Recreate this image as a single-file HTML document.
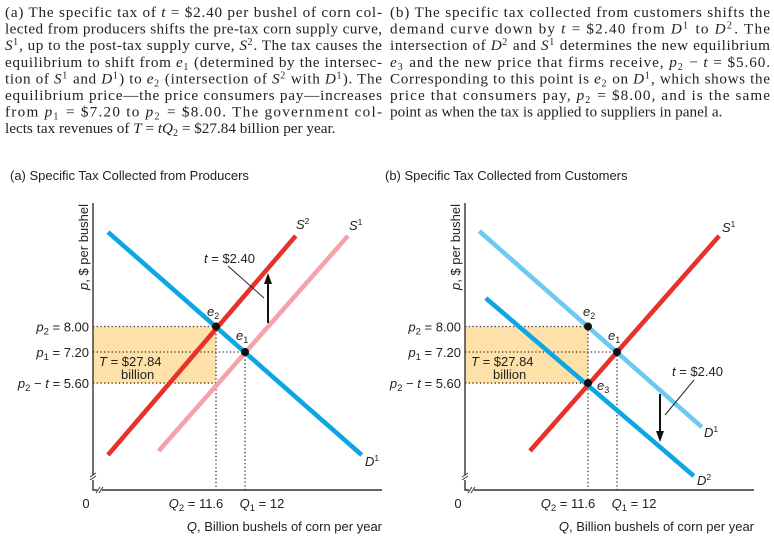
<!DOCTYPE html>
<html><head><meta charset="utf-8">
<style>
body{margin:0;width:774px;height:542px;background:#fff;overflow:hidden;position:relative;font-family:"Liberation Sans",sans-serif}
svg{position:absolute;left:0;top:0}
svg text{font-family:"Liberation Sans",sans-serif;font-size:13px;fill:#222}
svg text.cap{font-family:"Liberation Serif",serif;font-size:15.2px;fill:#222}
</style></head><body>
<svg id="chart" width="774" height="542"></svg>
<script>
const priceTicks=[8.0,7.2,5.6];
const qtyTicks=[11.6,12];
const taxAmount=2.40;
const revenue=27.84;
// line endpoints [q1,p1,q2,p2]
const aD1=[10.11,10.96,13.61,1.89];
const aS2=[10.11,1.89,12.70,10.84];
const aS1=[10.81,2.10,13.42,10.84];
const bD1=[10.10,10.99,13.17,3.33];
const bD2=[10.19,8.89,13.06,0.81];
const bS1=[10.80,2.10,13.41,10.84];
const aPoints=[[11.6,8.0],[12,7.2]];
const bPoints=[[11.6,8.0],[12,7.2],[11.6,5.6]];

const NS='http://www.w3.org/2000/svg';
const svg=document.getElementById('chart');
function el(tag,attrs,parent){const e=document.createElementNS(NS,tag);for(const k in attrs)e.setAttribute(k,attrs[k]);(parent||svg).appendChild(e);return e;}

const capA=[
"(a) The specific tax of *t* = $2.40 per bushel of corn col-",
"lected from producers shifts the pre-tax corn supply curve,",
"*S*^{1}, up to the post-tax supply curve, *S*^{2}. The tax causes the",
"equilibrium to shift from *e*_{1} (determined by the intersec-",
"tion of *S*^{1} and *D*^{1}) to *e*_{2} (intersection of *S*^{2} with *D*^{1}). The",
"equilibrium price—the price consumers pay—increases",
"from *p*_{1} = $7.20 to *p*_{2} = $8.00. The government col-",
"lects tax revenues of *T* = *tQ*_{2} = $27.84 billion per year."];
const capB=[
"(b) The specific tax collected from customers shifts the",
"demand curve down by *t* = $2.40 from *D*^{1} to *D*^{2}. The",
"intersection of *D*^{2} and *S*^{1} determines the new equilibrium",
"*e*_{3} and the new price that firms receive, *p*_{2} − *t* = $5.60.",
"Corresponding to this point is *e*_{2} on *D*^{1}, which shows the",
"price that consumers pay, *p*_{2} = $8.00, and is the same",
"point as when the tax is applied to suppliers in panel a."];
function md(s){
  return s.replace(/\*([^*]+)\*/g,'<tspan font-style="italic">$1</tspan>')
   .replace(/_\{([^}]+)\}/g,'<tspan font-size="10" dy="3">$1</tspan><tspan dy="-3">\u200b</tspan>')
   .replace(/\^\{([^}]+)\}/g,'<tspan font-size="10" dy="-5">$1</tspan><tspan dy="5">\u200b</tspan>');
}
function caption(lines,x,w,name){
  const g=el('g',{});
  
  
  lines.forEach((s,i)=>{
    const a={x:x,y:17+i*16.6,class:'cap'};
    if(i<lines.length-1){a.textLength=w;a.lengthAdjust='spacing';}
    const t=el('text',a,g);t.innerHTML=md(s);
  });
}
caption(capA,5,377,'panel-a-caption');
caption(capB,390,380,'panel-b-caption');
let h1=el('text',{x:10,y:180,'font-size':13.4});h1.textContent='(a) Specific Tax Collected from Producers';

let h2=el('text',{x:385,y:180,'font-size':13.4});h2.textContent='(b) Specific Tax Collected from Customers';


function py(p){return p>=7.2?352-(p-7.2)*31.9:352+(7.2-p)*19.4;}
function mkQ(x0){return q=>x0+(q-11.6)*72.5;}

function panel(ox,qx,lines,points){
  const axX=ox, baseY=490;
  let r=el('rect',{x:axX,y:py(priceTicks[0]),width:qx(qtyTicks[0])-axX,height:py(priceTicks[0]-taxAmount)-py(priceTicks[0]),fill:'#fde1a9'});
  
  
  const dot={stroke:'#333','stroke-width':1.3,'stroke-dasharray':'1.3 2.4'};
  el('line',Object.assign({x1:axX,y1:py(8),x2:qx(11.6),y2:py(8)},dot));
  el('line',Object.assign({x1:axX,y1:py(7.2),x2:qx(12),y2:py(7.2)},dot));
  el('line',Object.assign({x1:axX,y1:py(5.6),x2:qx(11.6),y2:py(5.6)},dot));
  el('line',Object.assign({x1:qx(11.6),y1:py(8),x2:qx(11.6),y2:baseY},dot));
  el('line',Object.assign({x1:qx(12),y1:py(7.2),x2:qx(12),y2:baseY},dot));
  el('line',{x1:axX,y1:203,x2:axX,y2:475,stroke:'#333','stroke-width':1.4});
  el('path',{d:`M${axX-3},480 l6,-4 M${axX-3},477 l6,-4`,stroke:'#333',fill:'none'});
  el('path',{d:`M${axX},480 V${baseY} H${axX+4}`,stroke:'#333',fill:'none','stroke-width':1.4});
  el('path',{d:`M${axX+3},493 l4,-6 M${axX+6},493 l4,-6`,stroke:'#333',fill:'none'});
  el('line',{x1:axX+9,y1:baseY,x2:ox+289,y2:baseY,stroke:'#333','stroke-width':1.4});
  lines.forEach(([d,col,name])=>{
    const l=el('line',{x1:qx(d[0]),y1:py(d[1]),x2:qx(d[2]),y2:py(d[3]),stroke:col,'stroke-width':4.6});
    
    
  });
  points.forEach(pt=>{
    const c=el('circle',{cx:qx(pt[0]),cy:py(pt[1]),r:4,fill:'#111'});
    
    
  });
  const subs=['2','1','2'];
  priceTicks.forEach((p,i)=>{
    const t=el('text',{x:axX-4,y:py(p)+5,'text-anchor':'end'});
    t.innerHTML=i==2?`<tspan font-style="italic">p</tspan><tspan font-size="9.5" dy="3">2</tspan><tspan dy="-3"> − </tspan><tspan font-style="italic">t</tspan> = ${p.toFixed(2)}`
      :`<tspan font-style="italic">p</tspan><tspan font-size="9.5" dy="3">${subs[i]}</tspan><tspan dy="-3"> = ${p.toFixed(2)}</tspan>`;
    
    
  });
  const t0=el('text',{x:axX-7,y:508,'text-anchor':'middle'});t0.textContent='0';
  qtyTicks.forEach((q,i)=>{
    const t=el('text',{x:qx(q)+(i==0?-20:17),y:508,'text-anchor':'middle'});
    t.innerHTML=`<tspan font-style="italic">Q</tspan><tspan font-size="9.5" dy="3">${i==0?2:1}</tspan><tspan dy="-3"> = ${q}</tspan>`;
    
    
  });
  const xt=el('text',{x:ox+289,y:531,'text-anchor':'end','font-size':13.8});
  xt.innerHTML='<tspan font-style="italic">Q</tspan>, Billion bushels of corn per year';
  
  
  const yt=el('text',{x:0,y:0,transform:`translate(${axX-5},247) rotate(-90)`,'text-anchor':'middle','font-size':13.8});
  yt.innerHTML='<tspan font-style="italic">p</tspan>, $ per bushel';
  
  
  const rv=el('text',{x:axX+6,y:py(7.2)+14});
  rv.innerHTML=`<tspan font-style="italic">T</tspan> = $${revenue}`;
  const rv2=el('text',{x:axX+28,y:py(7.2)+27});rv2.textContent='billion';
}
const qa=mkQ(216), qb=mkQ(588);
panel(93,qa,[[aD1,'#0ea5e4','demand-d1'],[aS1,'#f4a3ab','supply-s1'],[aS2,'#e8312a','supply-s2']],aPoints);
panel(465,qb,[[bD1,'#6ccaf0','demand-d1'],[bD2,'#0ea5e4','demand-d2'],[bS1,'#e8312a','supply-s1']],bPoints);
function sup(x,y,base,s,name){const t=el('text',{x:x,y:y});t.innerHTML=`<tspan font-style="italic">${base}</tspan><tspan font-size="8.5" dy="-5">${s}</tspan>`;}
function sub(x,y,base,s){const t=el('text',{x:x,y:y});t.innerHTML=`<tspan font-style="italic">${base}</tspan><tspan font-size="9" dy="3">${s}</tspan>`;}
sup(296,229,'S','2','label-s2');sup(349,230,'S','1','label-s1');sup(365,466,'D','1','label-d1');
sub(207,316,'e','2');sub(236,340,'e','1');
let ta=el('text',{x:204,y:263});ta.innerHTML=`<tspan font-style="italic">t</tspan> = $${taxAmount.toFixed(2)}`;
el('line',{x1:228,y1:266,x2:264,y2:298,stroke:'#222','stroke-width':1});
el('line',{x1:268,y1:323,x2:268,y2:282,stroke:'#111','stroke-width':2});
el('path',{d:'M264,284 L268,273 L272,284 Z',fill:'#111'});
sup(722,232,'S','1','label-s1-b');sup(704,437,'D','1','label-d1-b');sup(697,485,'D','2','label-d2');
sub(583,316,'e','2');sub(608,340,'e','1');sub(597,390,'e','3');
let tb=el('text',{x:672,y:376});tb.innerHTML=`<tspan font-style="italic">t</tspan> = $${taxAmount.toFixed(2)}`;
el('line',{x1:665,y1:415,x2:694,y2:380,stroke:'#222','stroke-width':1});
el('line',{x1:660,y1:394,x2:660,y2:433,stroke:'#111','stroke-width':2});
el('path',{d:'M656,431 L660,442 L664,431 Z',fill:'#111'});
</script>
</body></html>
